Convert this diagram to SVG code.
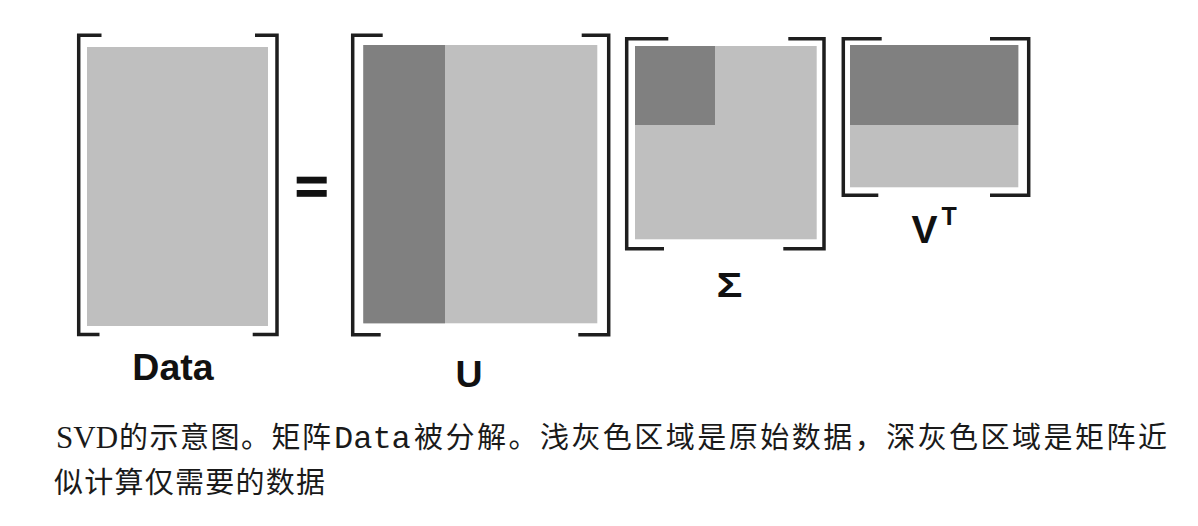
<svg xmlns="http://www.w3.org/2000/svg" width="1198" height="526" viewBox="0 0 1198 526">
<style>
.br{fill:none;stroke:#1e1e1e;stroke-width:3.5;stroke-linecap:butt;stroke-linejoin:miter}
.lt{fill:#bfbfbf}
.dk{fill:#808080}
.lbl{font-family:"Liberation Sans",Arial,sans-serif;font-weight:bold;fill:#111}
.cap{font-family:"Liberation Serif","Noto Sans CJK SC",serif;font-size:31px;fill:#1a1a1a}
.cjk{font-family:"Noto Sans CJK SC",sans-serif;font-size:29px;fill:#1a1a1a}
.mono{font-family:"Liberation Mono","Noto Sans CJK SC",monospace;font-size:32px;fill:#1a1a1a}
</style>
<rect width="1198" height="526" fill="#ffffff"/>

<g id="data">
<rect class="lt" x="87" y="47" width="181" height="279"/>
<path class="br" d="M101.5,35.3 H78.7 V334.5 H99.5"/>
<path class="br" d="M255,35.3 H277 V334.5 H252.7"/>
<text class="lbl" x="173" y="380" font-size="37.5" text-anchor="middle">Data</text>
</g>

<g id="equals">
<rect x="296.7" y="176.7" width="30" height="6.8" fill="#111"/>
<rect x="296.7" y="190" width="30" height="6.8" fill="#111"/>
</g>

<g id="u">
<rect class="lt" x="363.3" y="45" width="234" height="278.3"/>
<rect class="dk" x="363.3" y="45" width="81.7" height="278.3"/>
<path class="br" d="M382.7,35.3 H352.7 V334.7 H380.7"/>
<path class="br" d="M581.7,35.3 H608.7 V334.7 H578.3"/>
<text class="lbl" x="469" y="386.7" font-size="37.5" text-anchor="middle">U</text>
</g>

<g id="sigma">
<rect class="lt" x="635" y="46" width="181.7" height="193.3"/>
<rect class="dk" x="635" y="46" width="80" height="79"/>
<path class="br" d="M668.3,38.7 H626.7 V248.7 H664"/>
<path class="br" d="M788.3,38.7 H824 V248.7 H783.3"/>
<text class="lbl" font-size="36" text-anchor="middle" transform="translate(729.5,297) scale(1.2,1)">Σ</text>
</g>

<g id="vt">
<rect class="lt" x="850" y="45" width="168.3" height="142.3"/>
<rect class="dk" x="850" y="45" width="168.3" height="80"/>
<path class="br" d="M881.7,38.7 H843.3 V195.3 H878.3"/>
<path class="br" d="M990,38.7 H1028.7 V195.3 H990"/>
<text class="lbl" x="911.5" y="243" font-size="39">V<tspan x="941.5" y="225" font-size="25">T</tspan></text>
</g>

<g id="caption">
<text class="cap" x="56" y="448">SVD</text>
<text class="cjk" x="119" y="448" textLength="212" lengthAdjust="spacing">的示意图。矩阵</text>
<text class="mono" x="334" y="448">Data</text>
<text class="cjk" x="414" y="448" textLength="753" lengthAdjust="spacing">被分解。浅灰色区域是原始数据，深灰色区域是矩阵近</text>
<text class="cjk" x="54" y="493" textLength="271" lengthAdjust="spacing">似计算仅需要的数据</text>
</g>
</svg>
